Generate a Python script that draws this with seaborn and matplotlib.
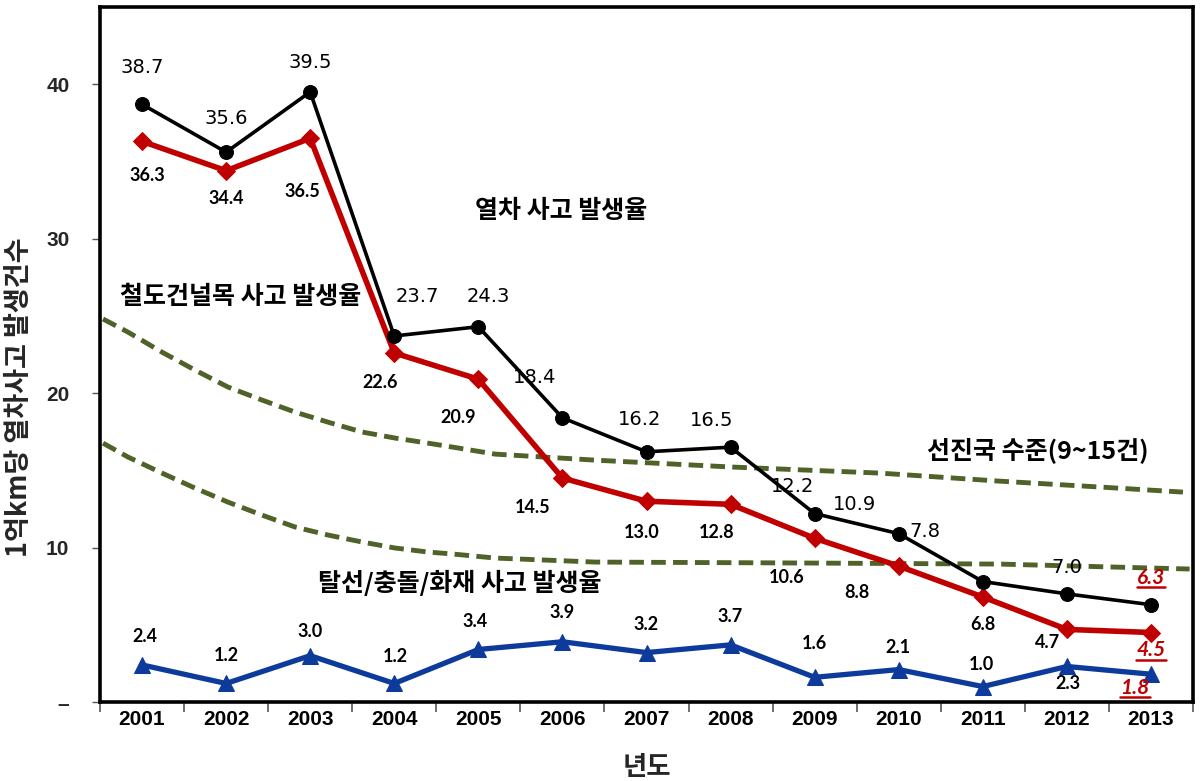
import numpy as np
import pandas as pd
import matplotlib
matplotlib.use("Agg")
import matplotlib.pyplot as plt
import seaborn as sns
from matplotlib.lines import Line2D

# ---------------- data ----------------
years = ["2001", "2002", "2003", "2004", "2005", "2006", "2007",
         "2008", "2009", "2010", "2011", "2012", "2013"]
train_rate = [38.7, 35.6, 39.5, 23.7, 24.3, 18.4, 16.2, 16.5, 12.2, 10.9, 7.8, 7.0, 6.3]
crossing_rate = [36.3, 34.4, 36.5, 22.6, 20.9, 14.5, 13.0, 12.8, 10.6, 8.8, 6.8, 4.7, 4.5]
derail_rate = [2.4, 1.2, 3.0, 1.2, 3.4, 3.9, 3.2, 3.7, 1.6, 2.1, 1.0, 2.3, 1.8]

# advanced-country band (x in category units)
band_upper_x = [-0.464, -0.167, 0.238, 0.630, 1.023, 1.427, 1.820, 2.212, 2.617,
                3.009, 3.402, 3.699, 4.20, 5.39, 7.03, 8.78, 10.2, 11.39, 12.38]
band_upper = [24.8, 23.95, 22.65, 21.49, 20.39, 19.55, 18.77, 18.12, 17.48,
              17.09, 16.76, 16.5, 16.05, 15.66, 15.21, 14.82, 14.30, 13.92, 13.59]
band_lower_x = [-0.464, -0.167, 0.238, 0.630, 1.023, 1.427, 1.820, 2.212, 2.617,
                3.009, 3.402, 3.699, 4.20, 5.39, 7.83, 10.2, 12.46]
band_lower = [16.76, 15.86, 14.82, 13.85, 12.94, 12.10, 11.33, 10.81, 10.36,
              9.97, 9.71, 9.58, 9.32, 9.06, 9.0, 8.93, 8.61]

ytick_vals = [0, 10, 20, 30, 40]
ytick_labels = ["–", "10", "20", "30", "40"]

# ---------------- layout (label offsets in pixels) ----------------
train_off = [(0, 37), (0, 34), (0, 29), (23, 39), (10, 30), (-28, 40), (-7, 32),
             (-19, 27), (-22, 27), (-44, 29), (-58, 50), (0, 26), (0, 27)]
cross_off = [(5, -34), (0, -28), (-8, -53), (-14, -30), (-20, -38), (-30, -29), (-5, -31),
             (-14, -28), (-28, -39), (-42, -26), (0, -28), (-19, -13), (0, -18)]
derail_off = [(3, 28), (0, 28), (0, 24), (1, 27), (-3, 28), (0, 29), (0, 28),
              (0, 28), (0, 34), (-1, 22), (-1, 22), (1, -17), (-16, -14)]

sns.set_theme(style="white")
plt.rcParams["font.family"] = ["Noto Sans CJK KR", "DejaVu Sans"]

W, H = 1202, 781
fig = plt.figure(figsize=(W / 100, H / 100), dpi=100)
ax = fig.add_axes([100 / W, 1 - 702 / H, (1193 - 100) / W, (702 - 7) / H])

pos = np.arange(len(years))
df = pd.DataFrame({"pos": pos, "train": train_rate, "cross": crossing_rate, "derail": derail_rate})

olive = "#4f6228"
red = "#c00000"
blue = "#0d3b9c"

dash = (0, (3.0, 1.5))
sns.lineplot(x=band_upper_x, y=band_upper, ax=ax, color=olive, lw=3.5,
             linestyle=dash, zorder=2, sort=False)
sns.lineplot(x=band_lower_x, y=band_lower, ax=ax, color=olive, lw=3.5,
             linestyle=dash, zorder=2, sort=False)

sns.lineplot(data=df, x="pos", y="train", ax=ax, color="black", lw=2.6,
             marker="o", markersize=10, markeredgecolor="black", zorder=4)
sns.lineplot(data=df, x="pos", y="cross", ax=ax, color=red, lw=4.0,
             marker="D", markersize=9, markeredgecolor=red, zorder=3)
sns.lineplot(data=df, x="pos", y="derail", ax=ax, color=blue, lw=3.8,
             marker="^", markersize=11, markeredgecolor=blue, zorder=3)

ax.set_xlim(-0.5, len(years) - 0.5)
ax.set_ylim(0, 45)

# ticks
ax.set_xticks(pos)
ax.set_xticklabels(years, fontsize=15, fontweight="bold", family="Liberation Sans")
ax.set_xticks(np.arange(-0.5, len(years)), minor=True)
ax.tick_params(axis="x", which="major", length=0, pad=6, colors="black")
ax.tick_params(axis="x", which="minor", length=7, width=1.2, direction="out",
               color="#555555", bottom=True)
ax.set_yticks(ytick_vals)
ax.set_yticklabels(ytick_labels, fontsize=15, fontweight="bold", family="Liberation Sans")
ax.tick_params(axis="y", length=6, width=1.0, direction="out", color="#555555",
               left=True, pad=16)

for s in ax.spines.values():
    s.set_visible(True)
    s.set_color("black")
    s.set_linewidth(2.6)

ax.set_xlabel("년도", fontsize=19, fontweight="bold", labelpad=18)
ax.set_ylabel("1억km당 열차사고 발생건수", fontsize=19.5, fontweight="bold")
ax.yaxis.set_label_coords(-(100 - 33) / 1093, (702 - 397) / 695)
ax.grid(False)

# data labels
under_texts = []
last = len(years) - 1
hl_kw = dict(ha="center", va="center", fontsize=15, color=red,
             fontweight="bold", fontstyle="italic", family="Lato")
bold_kw = dict(ha="center", va="center", fontsize=13, color="black",
               fontweight="bold", family="Lato")
for i, (v, (dx, dy)) in enumerate(zip(train_rate, train_off)):
    if i == last:
        under_texts.append(ax.annotate(f"{v:.1f}", (i, v), xytext=(dx, dy),
                                       textcoords="offset pixels", **hl_kw))
    else:
        ax.annotate(f"{v:.1f}", (i, v), xytext=(dx, dy), textcoords="offset pixels",
                    ha="center", va="center", fontsize=14, color="black",
                    family="DejaVu Sans")
for series, offs in ((crossing_rate, cross_off), (derail_rate, derail_off)):
    for i, (v, (dx, dy)) in enumerate(zip(series, offs)):
        kw = hl_kw if i == last else bold_kw
        t = ax.annotate(f"{v:.1f}", (i, v), xytext=(dx, dy),
                        textcoords="offset pixels", **kw)
        if i == last:
            under_texts.append(t)

# series captions
cap_kw = dict(fontsize=18, fontweight="bold", ha="center", va="center", color="black")
ax.text(4.98, 31.8, "열차 사고 발생율", **cap_kw)
ax.text(1.17, 26.2, "철도건널목 사고 발생율", **cap_kw)
ax.text(10.66, 16.3, "선진국 수준(9~15건)", **cap_kw)
ax.text(3.78, 7.7, "탈선/충돌/화재 사고 발생율", **cap_kw)

# underline the highlighted labels
fig.canvas.draw()
rend = fig.canvas.get_renderer()
for t in under_texts:
    bb = t.get_window_extent(rend)
    y0 = bb.y0 + 1
    fig.add_artist(Line2D([bb.x0, bb.x1], [y0, y0], transform=None,
                          color=red, lw=1.8))

fig.savefig("out.png", dpi=100)
